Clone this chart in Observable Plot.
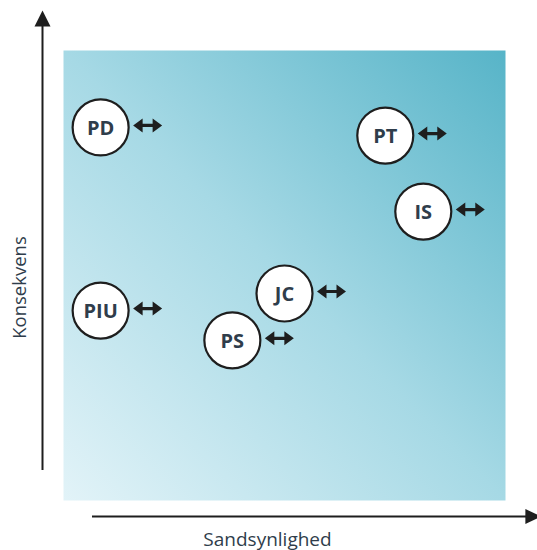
<!DOCTYPE html>
<html>
<head>
<meta charset="utf-8">
<script src="https://cdn.jsdelivr.net/npm/d3@7"></script>
<script src="https://cdn.jsdelivr.net/npm/@observablehq/plot@0.6"></script>
<style>
  html, body { margin: 0; padding: 0; background: #fff; }
</style>
</head>
<body>
<div id="chart"></div>
<script>
// Data
const labels = ["PD", "PT", "IS", "JC", "PS", "PIU"];
const sandsynlighed = [0.84, 7.28, 8.14, 5.0, 3.82, 0.84];
const konsekvens = [8.29, 8.11, 6.42, 4.6, 3.56, 4.22];
const xLabel = "Sandsynlighed";
const yLabel = "Konsekvens";

const points = labels.map((label, i) => ({label, x: sandsynlighed[i], y: konsekvens[i]}));

// Custom symbols
const doubleArrow = {
  draw(ctx) {
    const L = 14.5, H = 9.5, W = 7, t = 1.6;
    ctx.moveTo(-L, 0);
    ctx.lineTo(-L + H, -W);
    ctx.lineTo(-L + H, -t);
    ctx.lineTo(L - H, -t);
    ctx.lineTo(L - H, -W);
    ctx.lineTo(L, 0);
    ctx.lineTo(L - H, W);
    ctx.lineTo(L - H, t);
    ctx.lineTo(-L + H, t);
    ctx.lineTo(-L + H, W);
    ctx.closePath();
  }
};
const triUp = {
  draw(ctx) {
    ctx.moveTo(0, -8); ctx.lineTo(8, 8); ctx.lineTo(-8, 8); ctx.closePath();
  }
};
const triRight = {
  draw(ctx) {
    ctx.moveTo(8, 0); ctx.lineTo(-8, 7.5); ctx.lineTo(-8, -7.5); ctx.closePath();
  }
};

const ink = "#1e1e1e";
const textColor = "#2f3d4b";
const font = "'Open Sans', Lato, sans-serif";

const chart = Plot.plot({
  width: 537,
  height: 550,
  marginLeft: 63,
  marginRight: 32,
  marginTop: 50,
  marginBottom: 50,
  x: {domain: [0, 10], axis: null},
  y: {domain: [0, 10], axis: null},
  style: {fontFamily: font, background: "#fff", overflow: "visible"},
  marks: [
    Plot.frame({fill: "url(#bg)", stroke: "none"}),
    // y axis arrow
    Plot.ruleX([0], {y1: 0.667, y2: 10.6, dx: -21, stroke: ink, strokeWidth: 2}),
    Plot.dot([0], {x: d => d, y: () => 10.71, dx: -21, symbol: triUp, fill: ink, stroke: "none"}),
    // x axis arrow
    Plot.ruleY([0], {x1: 0.656, x2: 10.52, dy: 16, stroke: ink, strokeWidth: 2}),
    Plot.dot([0], {x: () => 10.63, y: d => d, dy: 16, symbol: triRight, fill: ink, stroke: "none"}),
    // axis labels
    Plot.text([xLabel], {text: d => d, frameAnchor: "bottom", dx: -17, dy: 45, fontSize: 19, fill: textColor, fontFamily: font}),
    Plot.text([yLabel], {text: d => d, frameAnchor: "left", dx: -43, dy: 12, rotate: -90, fontSize: 18.5, fill: textColor, fontFamily: font, textAnchor: "middle"}),
    // bubbles
    Plot.dot(points, {x: "x", y: "y", r: 28, fill: "#fff", stroke: ink, strokeWidth: 2.2}),
    Plot.text(points, {x: "x", y: "y", text: "label", fontSize: 20, fontWeight: 700, fill: textColor, fontFamily: font, dy: 1}),
    Plot.dot(points, {x: "x", y: "y", dx: 47, dy: -2, symbol: doubleArrow, fill: ink, stroke: "none"})
  ]
});

const defs = d3.select(chart).insert("defs", ":first-child");
const grad = defs.append("linearGradient")
  .attr("id", "bg")
  .attr("x1", 0).attr("y1", 1).attr("x2", 1).attr("y2", 0);
grad.append("stop").attr("offset", "0%").attr("stop-color", "#e2f3f8");
grad.append("stop").attr("offset", "50%").attr("stop-color", "#a6d9e5");
grad.append("stop").attr("offset", "100%").attr("stop-color", "#57b4c8");

document.getElementById("chart").appendChild(chart);
</script>
</body>
</html>
